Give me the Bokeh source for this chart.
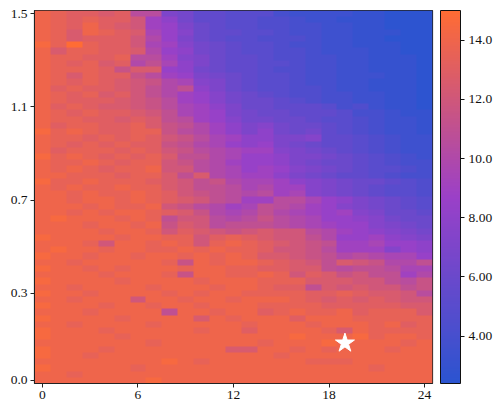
import numpy as np
from bokeh.plotting import figure
from bokeh.models import (LinearColorMapper, ColorBar, FixedTicker,
                          CustomJSTickFormatter, Range1d)
from bokeh.embed import file_html
from bokeh.resources import INLINE

# ---------------- data ----------------
n_cols = 25
n_rows = 60
x_ticks = [0, 6, 12, 18, 24]
y_tick_rows = [0, 14, 29, 44, 59]
y_tick_labels = ["0.0", "0.3", "0.7", "1.1", "1.5"]
cbar_ticks = [4, 6, 8, 10, 12, 14]
value_low, value_high = 2.4, 15.0
star_col = [19]
star_row = [6]

# cell values, one string per row, top row first.
# letter code: a=2.5, b=3.0, c=3.5 ... z=15.0 (steps of 0.5)
rows_top_down = [
    "xwvvuvqqjiggfffdccccbbaaa",
    "xwvwvvtnliggffeedccbbbaaa",
    "xwvxvutnmjhgffeeddccbbaaa",
    "xwuxwvuomkhggffeddccbbbaa",
    "xwuvvvtpmjhgffeeedccbbaaa",
    "ywzwvvtonkihgffeddccbbbaa",
    "xuwwvvupmlihgffeedcccbbaa",
    "xwwvvwqqnkjhggfeeddccbbba",
    "xwvwuvproljhggffeddccbbba",
    "xwwwvsuumlihggfeeddccbbba",
    "xwuwvvsqnmjihgffeddcccbba",
    "xwvwvutspokjhgffeddccbbba",
    "xvwvvutrprljhgffeedccbbba",
    "xwvwuvtrpnmkihgfeeddccbba",
    "xwvvvutsqnmkihhgfeddccbba",
    "xvwvuutsqonljhhgggfdecbba",
    "xwvwvvutronmjihhgggfddcbb",
    "xwwvvuvurqnmkiihhgffedccb",
    "xvwwvvwusrpnljkihhgfedccb",
    "ywxwvvwwsqpnljlihigfedccb",
    "xwwvwvwvtsqonlljjkggfedcc",
    "xwvwvwvvsrpomlmjihggfedcc",
    "xvwwwvwvtsqponnkjihgfedcc",
    "ywxwvwvwurrpommljjihgfedc",
    "xwwxwvwwtsqpnmmljihhgfedd",
    "xwxwvwwxttqpomnmkjihgffed",
    "xxwwwvwwuruponnljihggfedd",
    "ywwxwwwvutrspoonlkjihhgfe",
    "xwxwwxwwutrrqopnnkjihgffe",
    "xxwxwwxwvtsrqpqnokjihgffe",
    "xxwxxwxwvutrqnnqqomljihgf",
    "xxxwxwwxtsqpnorqpnmkjihgf",
    "xxwxwxxwvuspoprponmnkjhhg",
    "xyxxxwxwrttqpqsqpommlkihh",
    "xxxwxxwxsutqrrrqponmmkjih",
    "xxxxwxxwtvutstuttqpnmlkji",
    "yxxxxwxxwwtvwvuttrpmmnlkj",
    "xxxwtxxwxwtwxwvutsrnnomml",
    "xyxxwxxwwxwxwwvttsqnnnkml",
    "yxxwxxwxxwxwxwuutsrpqpoom",
    "xxwxxxxxwsxwxxwvutrutsppr",
    "yxxwxwxxxwxxwwvvuurqrrqoo",
    "xxxxwxxxwsxxwwxwtvustrrnp",
    "yxxxxwxxxxwxxxwwwuuuttrqs",
    "xxwxxxxwxxxwxxwvvrututtrs",
    "yxxwxxxxwxwxxwwwwvvwvuutq",
    "xxwxxxtxxwxxwxxxwvuvuvutt",
    "yxxxwxxwxxwxxxwwwwvvvvvuu",
    "xxxwxxxxrxxwxxvwxwwxvwwwu",
    "yxxxxwxxxxuxwxxxvxxxwwwww",
    "xxwxxxxwxxxxxwxxxwxxxwxvw",
    "yxxxwxxxxxwxxvxxxxwuxwwww",
    "yxxxxwxxxxxxxxxxyxxxywxxw",
    "xxxxxxxwxxxxxxwxxxyxxxxwx",
    "yxxxwxxxxxxxuuxxwxwxxxwxx",
    "yxxwxxxxxxxxxxxwxxxxxxxxx",
    "xxxxxxxxyxwxxxxxxwwwxxxxx",
    "yxxxxxwxxxxxxxxxxxxxxwxxx",
    "xxwxxxxxxxxxxxxxxxxxxxxxx",
    "xxxxxxxyxxxxxxxxxxxxxxxxx",
]

# colour stops of the colour scale (blue -> purple -> orange)
cmap_stops = [(0.0, (43, 84, 208)), (0.5, (155, 64, 200)), (1.0, (255, 108, 52))]

# ---------------- build ----------------
z = np.array([[2.5 + 0.5 * (ord(ch) - ord("a")) for ch in row]
              for row in rows_top_down[::-1]], dtype=float)


def make_palette(stops, n=256):
    out = []
    for i in range(n):
        t = i / (n - 1)
        for (t0, c0), (t1, c1) in zip(stops[:-1], stops[1:]):
            if t0 <= t <= t1:
                f = (t - t0) / (t1 - t0)
                c = [round(a + (b - a) * f) for a, b in zip(c0, c1)]
                out.append("#%02x%02x%02x" % tuple(c))
                break
    return out


palette = make_palette(cmap_stops)
mapper = LinearColorMapper(palette=palette, low=value_low, high=value_high)

FONT = "Liberation Serif"
FS = "13.5px"

p = figure(frame_width=398, frame_height=373,
           x_range=Range1d(-0.5, n_cols - 0.5), y_range=Range1d(-0.5, n_rows - 0.5),
           output_backend="svg", toolbar_location=None,
           min_border_left=34, min_border_top=10, min_border_bottom=18,
           min_border_right=0)

p.image(image=[z], x=-0.5, y=-0.5, dw=n_cols, dh=n_rows, color_mapper=mapper)
p.scatter(x=star_col, y=star_row, marker="star", size=20,
          fill_color="white", line_color="white")

p.grid.visible = False
p.outline_line_color = "#222222"
p.outline_line_width = 1.2

p.xaxis.ticker = FixedTicker(ticks=x_ticks)
p.yaxis.ticker = FixedTicker(ticks=y_tick_rows)
p.yaxis.major_label_overrides = {r: l for r, l in zip(y_tick_rows, y_tick_labels)}
for ax in (p.xaxis[0], p.yaxis[0]):
    ax.axis_line_color = "#222222"
    ax.major_tick_line_color = "#222222"
    ax.major_tick_in = 0
    ax.major_tick_out = 4
    ax.minor_tick_line_color = None
    ax.major_label_text_font = FONT
    ax.major_label_text_font_size = FS
    ax.major_label_text_color = "#111111"
    ax.major_label_standoff = 3

cb = ColorBar(color_mapper=mapper, ticker=FixedTicker(ticks=cbar_ticks),
              formatter=CustomJSTickFormatter(code="return tick.toPrecision(3)"),
              width=20, padding=0, margin=0, location=(8, 0),
              bar_line_color="#111111", major_tick_line_color="#111111",
              major_tick_in=0, major_tick_out=4, minor_tick_line_color=None,
              label_standoff=4, major_label_text_font=FONT,
              major_label_text_font_size=FS, major_label_text_color="#111111",
              background_fill_alpha=0, border_line_color=None)
p.add_layout(cb, "right")

open("out.html", "w").write(file_html(p, INLINE))
